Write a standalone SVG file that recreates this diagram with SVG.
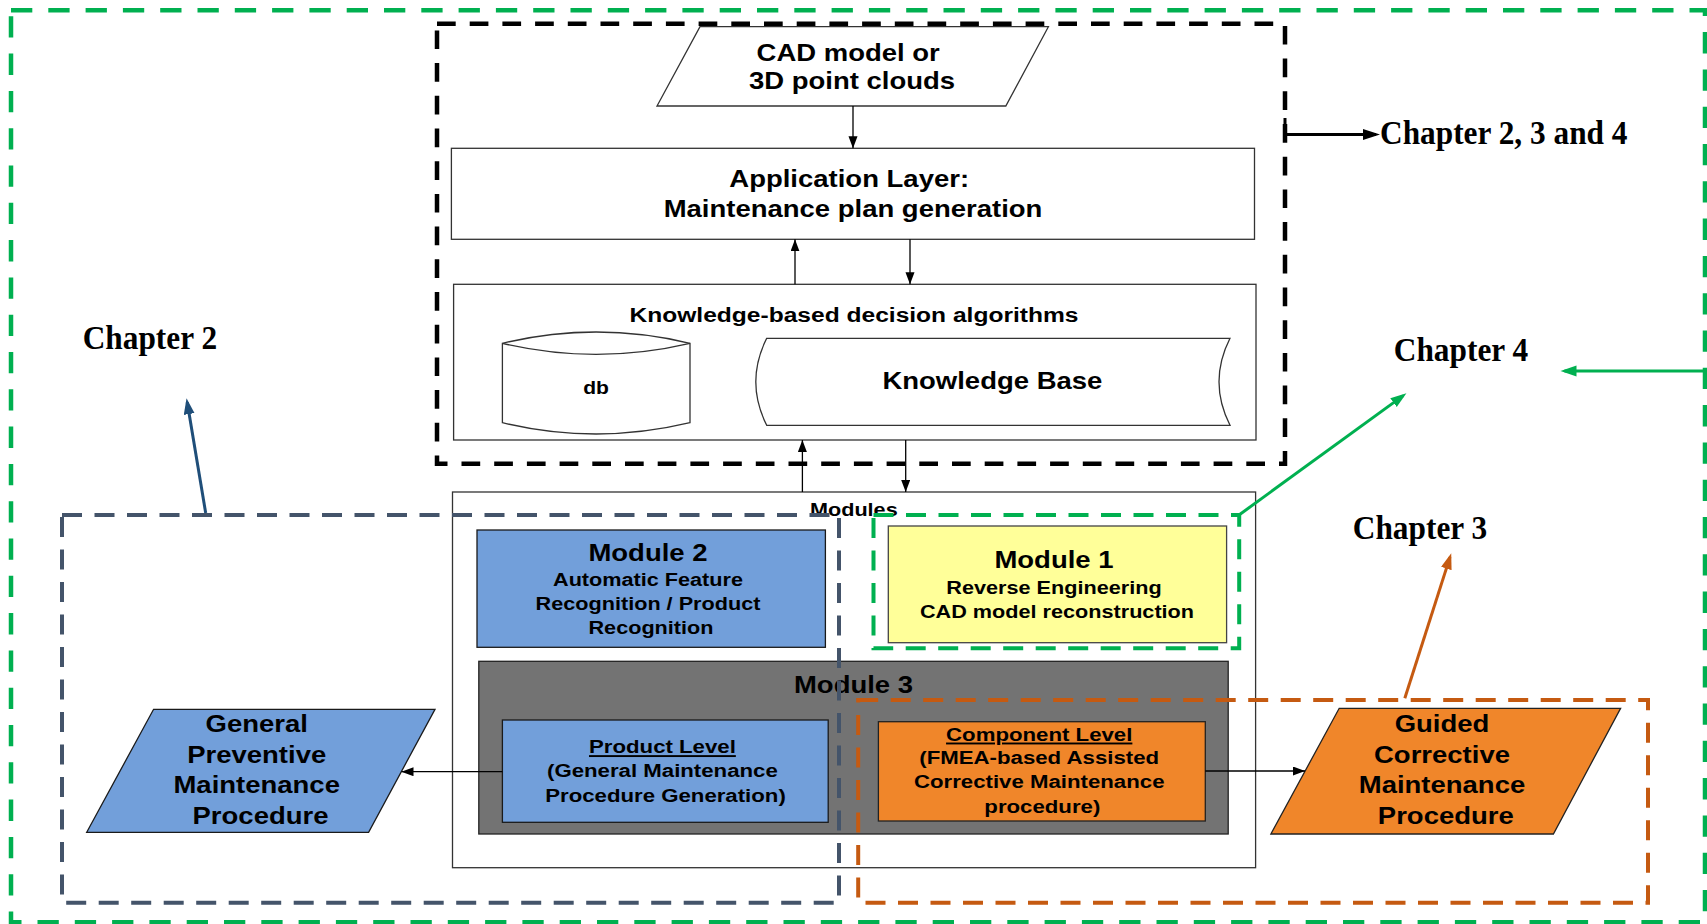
<svg xmlns="http://www.w3.org/2000/svg" width="1707" height="924" viewBox="0 0 1707 924">
  <style>
    .frame-all{fill:none;stroke:#00B050;stroke-width:4.5;stroke-dasharray:21.3 16}
    .frame-top{fill:none;stroke:#000;stroke-width:4.5;stroke-dasharray:18.7 14}
    .frame-slate{fill:none;stroke:#44546A;stroke-width:4;stroke-dasharray:20 12.5}
    .frame-orange{fill:none;stroke:#C55A11;stroke-width:4;stroke-dasharray:20 12.5}
    .frame-green{fill:none;stroke:#00B050;stroke-width:4;stroke-dasharray:20 12.5}
    .box{fill:#fff;stroke:#333;stroke-width:1.3}
    .blue{fill:#729FDA;stroke:#1a1a1a;stroke-width:1.3}
    .yellow{fill:#FFFF99;stroke:#444;stroke-width:1.3}
    .grey{fill:#737373;stroke:#222;stroke-width:1.3}
    .orange{fill:#F0862A;stroke:#222;stroke-width:1.3}
    .t{font-family:"Liberation Sans",Arial,sans-serif;font-weight:bold;fill:#000;text-anchor:middle}
    .ch{font-family:"Liberation Serif","Times New Roman",serif;font-weight:bold;font-size:33px;fill:#000}
    .ln{fill:none;stroke:#000;stroke-width:1.3}
    .ul{text-decoration:underline}
  </style>
  <defs>
    <marker id="ah" markerUnits="userSpaceOnUse" markerWidth="12" markerHeight="10" refX="12" refY="4.5" orient="auto">
      <path d="M0,0 L12,4.5 L0,9 Z" fill="#000"/>
    </marker>
    <marker id="ahBlack" markerUnits="userSpaceOnUse" markerWidth="18" markerHeight="12" refX="13" refY="5.5" orient="auto">
      <path d="M0,0 L17,5.5 L0,11 Z" fill="#000"/>
    </marker>
    <marker id="ahBlue" markerUnits="userSpaceOnUse" markerWidth="17" markerHeight="12" refX="12" refY="5.5" orient="auto">
      <path d="M0,0 L16,5.5 L0,11 Z" fill="#1F4E79"/>
    </marker>
    <marker id="ahGreen" markerUnits="userSpaceOnUse" markerWidth="17" markerHeight="12" refX="12" refY="5.5" orient="auto">
      <path d="M0,0 L16,5.5 L0,11 Z" fill="#00B050"/>
    </marker>
    <marker id="ahOrange" markerUnits="userSpaceOnUse" markerWidth="17" markerHeight="12" refX="12" refY="5.5" orient="auto">
      <path d="M0,0 L16,5.5 L0,11 Z" fill="#C55A11"/>
    </marker>
  </defs>

  <rect width="1707" height="924" fill="#fff"/>

  <!-- outer scope and the knowledge layer frame -->
  <g id="scope-all">
    <rect class="frame-all" x="11" y="10.3" width="1694" height="912"/>
  </g>
  <g id="scope-knowledge">
    <rect class="frame-top" x="437" y="23.7" width="848" height="440"/>
  </g>

  <!-- input -->
  <g id="input">
    <polygon class="box" points="700,26.7 1048.4,26.7 1005.8,106 657,106"/>
    <text class="t" font-size="23.5" transform="translate(852,0) scale(1.17,1)">
      <tspan x="0" y="60.7">CAD model or</tspan>
      <tspan x="0" y="89.3">3D point clouds</tspan>
    </text>
  </g>

  <g id="application">
    <rect class="box" x="451.4" y="148.3" width="803.1" height="91"/>
    <text class="t" font-size="23.5" transform="translate(853,0) scale(1.17,1)">
      <tspan x="0" y="187">Application Layer:</tspan>
      <tspan x="0" y="217">Maintenance plan generation</tspan>
    </text>
  </g>

  <g id="knowledge">
    <rect class="box" x="453.6" y="284.3" width="802.4" height="155.7"/>
    <text class="t" font-size="21" transform="translate(854,0) scale(1.17,1)"><tspan x="0" y="321.7">Knowledge-based decision algorithms</tspan></text>
  </g>

  <g id="db">
    <path class="box" d="M502.4,343.3 Q596,320.7 690,343.3 L690,422.7 Q596,445.3 502.4,422.7 Z"/>
    <path class="ln" style="stroke:#333" d="M502.4,343.3 Q596,365.3 690,343.3"/>
    <text class="t" font-size="18" transform="translate(596,0) scale(1.17,1)"><tspan x="0" y="394">db</tspan></text>
  </g>

  <g id="knowledge-base">
    <path class="box" d="M766.7,338.3 L1230,338.3 Q1208,381.8 1230,425.3 L766.7,425.3 Q744.9,381.8 766.7,338.3 Z"/>
    <text class="t" font-size="23.5" transform="translate(992.4,0) scale(1.17,1)"><tspan x="0" y="389">Knowledge Base</tspan></text>
  </g>

  <g id="modules">
    <rect class="box" x="452.5" y="492" width="803.1" height="375.7"/>
    <text class="t" font-size="18.5" transform="translate(853.8,0) scale(1.17,1)"><tspan x="0" y="515.7">Modules</tspan></text>
  </g>

  <g id="module-2">
    <rect class="blue" x="477" y="530" width="348.4" height="117.3"/>
    <text class="t" font-size="18.5" transform="translate(651,0) scale(1.17,1)">
      <tspan x="0" y="560.7" font-size="23.5">Module 2</tspan>
      <tspan x="0" y="585.7">Automatic Feature</tspan>
      <tspan x="0" y="610">Recognition / Product</tspan>
      <tspan x="0" y="634.3">Recognition</tspan>
    </text>
  </g>

  <g id="module-1">
    <rect class="yellow" x="888.3" y="526" width="338.3" height="116.7"/>
    <text class="t" font-size="18.5" transform="translate(1057,0) scale(1.17,1)">
      <tspan x="0" y="568.3" font-size="23.5">Module 1</tspan>
      <tspan x="0" y="594">Reverse Engineering</tspan>
      <tspan x="0" y="617.7">CAD model reconstruction</tspan>
    </text>
  </g>

  <g id="module-3">
    <rect class="grey" x="478.8" y="661.3" width="749.4" height="172.7"/>
    <text class="t" font-size="23.5" transform="translate(853.5,0) scale(1.17,1)"><tspan x="0" y="693.3">Module 3</tspan></text>
  </g>

  <g id="product-level">
    <rect class="blue" x="502.4" y="720" width="325.8" height="102.3"/>
    <text class="t" font-size="19" transform="translate(665.5,0) scale(1.17,1)">
      <tspan x="0" y="753.3" class="ul">Product Level</tspan>
      <tspan x="0" y="777.3">(General Maintenance</tspan>
      <tspan x="0" y="801.7">Procedure Generation)</tspan>
    </text>
  </g>

  <g id="component-level">
    <rect class="orange" x="878.4" y="721.7" width="326.9" height="99.3"/>
    <text class="t" font-size="19" transform="translate(1042.3,0) scale(1.17,1)">
      <tspan x="0" y="740.7" class="ul">Component Level</tspan>
      <tspan x="0" y="764">(FMEA-based Assisted</tspan>
      <tspan x="0" y="788.3">Corrective Maintenance</tspan>
      <tspan x="0" y="812.7">procedure)</tspan>
    </text>
  </g>

  <g id="general-procedure">
    <polygon class="blue" points="153.6,709.3 435,709.3 368.6,832.3 86.7,832.3"/>
    <text class="t" font-size="23.5" transform="translate(260.5,0) scale(1.17,1)">
      <tspan x="0" y="731.7">General</tspan>
      <tspan x="0" y="763.3">Preventive</tspan>
      <tspan x="0" y="793.3">Maintenance</tspan>
      <tspan x="0" y="824">Procedure</tspan>
    </text>
  </g>

  <g id="guided-procedure">
    <polygon class="orange" points="1339.2,708.3 1620.6,708.3 1553.4,834 1270.9,834"/>
    <text class="t" font-size="23.5" transform="translate(1445.8,0) scale(1.17,1)">
      <tspan x="0" y="731.7">Guided</tspan>
      <tspan x="0" y="763.3">Corrective</tspan>
      <tspan x="0" y="793.3">Maintenance</tspan>
      <tspan x="0" y="824">Procedure</tspan>
    </text>
  </g>

  <!-- flow between layers -->
  <g id="connectors">
    <line class="ln" x1="853" y1="106" x2="853" y2="148.3" marker-end="url(#ah)"/>
    <line class="ln" x1="795" y1="284.3" x2="795" y2="239.3" marker-end="url(#ah)"/>
    <line class="ln" x1="910" y1="239.3" x2="910" y2="284.3" marker-end="url(#ah)"/>
    <line class="ln" x1="802.4" y1="492" x2="802.4" y2="440" marker-end="url(#ah)"/>
    <line class="ln" x1="905.7" y1="440" x2="905.7" y2="492" marker-end="url(#ah)"/>
    <line class="ln" x1="502.4" y1="771.7" x2="401.5" y2="771.7" marker-end="url(#ah)"/>
    <line class="ln" x1="1205.3" y1="771" x2="1305" y2="771" marker-end="url(#ah)"/>
    <polyline fill="none" stroke="#000" stroke-width="3" points="1285,118 1285,134.5 1376,134.5" marker-end="url(#ahBlack)"/>
    <line stroke="#1F4E79" stroke-width="3" x1="205.7" y1="513" x2="187.2" y2="402.2" marker-end="url(#ahBlue)"/>
    <line stroke="#00B050" stroke-width="3" x1="1239" y1="515" x2="1403.2" y2="395.6" marker-end="url(#ahGreen)"/>
    <line stroke="#00B050" stroke-width="3" x1="1707" y1="371" x2="1564.5" y2="371" marker-end="url(#ahGreen)"/>
    <line stroke="#C55A11" stroke-width="3" x1="1404.8" y1="698.3" x2="1450" y2="557.1" marker-end="url(#ahOrange)"/>
  </g>

  <!-- chapter scopes -->
  <g id="scope-chapter2">
    <rect class="frame-slate" x="62" y="515" width="777" height="387.7"/>
  </g>
  <g id="scope-chapter3">
    <rect class="frame-orange" x="858.2" y="700" width="789.8" height="202.7"/>
  </g>
  <g id="scope-chapter4">
    <rect class="frame-green" x="873.5" y="515" width="365.7" height="133.3"/>
  </g>

  <g id="chapter-labels">
    <text class="ch" transform="translate(82.7,0) scale(0.95,1)" x="0" y="349.3">Chapter 2</text>
    <text class="ch" transform="translate(1380,0) scale(0.95,1)" x="0" y="144.3">Chapter 2, 3 and 4</text>
    <text class="ch" transform="translate(1393.8,0) scale(0.95,1)" x="0" y="361">Chapter 4</text>
    <text class="ch" transform="translate(1352.8,0) scale(0.95,1)" x="0" y="539.3">Chapter 3</text>
  </g>
</svg>
